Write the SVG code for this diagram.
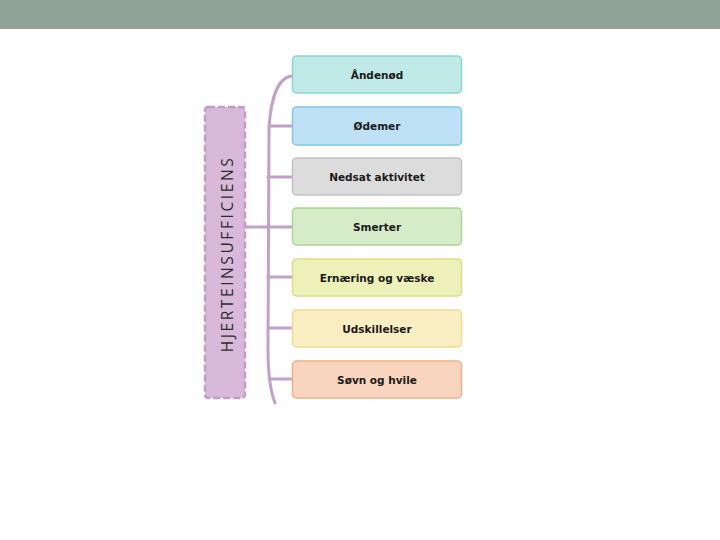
<svg xmlns="http://www.w3.org/2000/svg" width="720" height="540" viewBox="0 0 720 540">
<style>
.box{stroke-width:1.5}
.lbl{font-family:"DejaVu Sans","Liberation Sans",sans-serif;font-weight:bold;font-size:10.5px;fill:#1a1a1a;text-anchor:middle;dominant-baseline:central}
.con{fill:none;stroke:#c2a0c9;stroke-width:3;stroke-linecap:round}
</style>
<rect x="0" y="0" width="720" height="29" fill="#91a296"/>
<g id="connectors">
<path class="con" d="M292,76 C277,78 271,98 269,128 L268,350 Q268,385 275,403"/>
<path class="con" d="M269,126 H292"/>
<path class="con" d="M268,177 H292"/>
<path class="con" d="M246,227 H292"/>
<path class="con" d="M268,277 H292"/>
<path class="con" d="M268,328 H292"/>
<path class="con" d="M269,379 H292"/>
</g>
<g id="root">
<rect x="205" y="107" width="40" height="291" rx="3" fill="#d9b9d9" stroke="#c59bc8" stroke-width="2.5" stroke-dasharray="7,3"/>
<text transform="translate(227,254) rotate(-90)" font-family="'Open Sans','DejaVu Sans',sans-serif" font-size="15.5" letter-spacing="2.6" fill="#2e2e2e" text-anchor="middle" dominant-baseline="central">HJERTEINSUFFICIENS</text>
</g>
<g id="n1"><rect class="box" x="292.5" y="56" width="169" height="37" rx="4" fill="#c0eae7" stroke="#86d6d2"/><text class="lbl" x="377" y="74.5">Åndenød</text></g>
<g id="n2"><rect class="box" x="292.5" y="107" width="169" height="38" rx="4" fill="#bfe1f5" stroke="#80c6ea"/><text class="lbl" x="377" y="126">Ødemer</text></g>
<g id="n3"><rect class="box" x="292.5" y="158" width="169" height="37" rx="4" fill="#dcdcdc" stroke="#c2c2c2"/><text class="lbl" x="377" y="176.5">Nedsat aktivitet</text></g>
<g id="n4"><rect class="box" x="292.5" y="208" width="169" height="37" rx="4" fill="#d6ecc9" stroke="#acd595"/><text class="lbl" x="377" y="226.5">Smerter</text></g>
<g id="n5"><rect class="box" x="292.5" y="259" width="169" height="37" rx="4" fill="#eef0ba" stroke="#dadf86"/><text class="lbl" x="377" y="277.5">Ernæring og væske</text></g>
<g id="n6"><rect class="box" x="292.5" y="310" width="169" height="37" rx="4" fill="#faeec3" stroke="#f2db8f"/><text class="lbl" x="377" y="328.5">Udskillelser</text></g>
<g id="n7"><rect class="box" x="292.5" y="361" width="169" height="37" rx="4" fill="#f9d4be" stroke="#f2b089"/><text class="lbl" x="377" y="379.5">Søvn og hvile</text></g>
</svg>
